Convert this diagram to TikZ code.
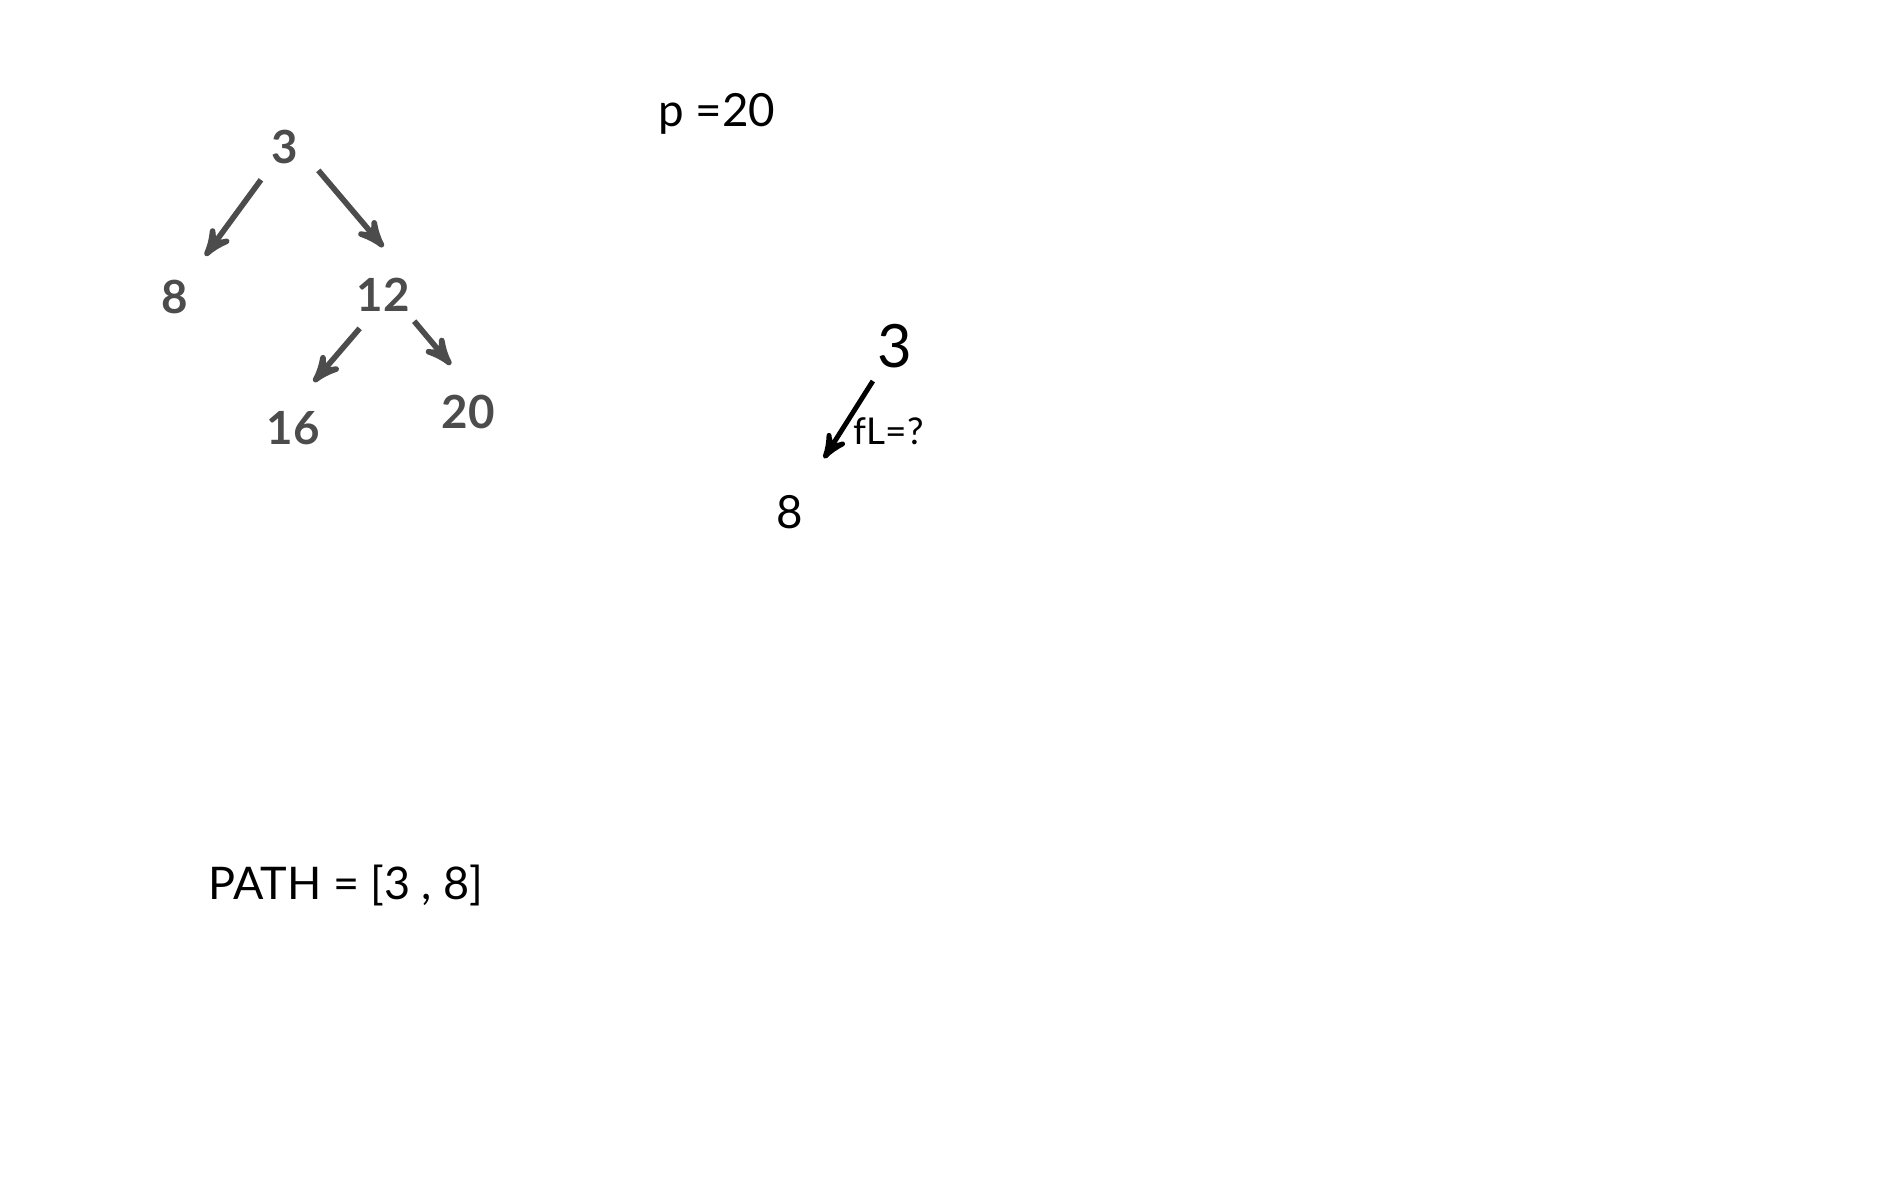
\documentclass[tikz,border=0pt]{standalone}
\usepackage{fontspec}
\setmainfont{Lato}
\usetikzlibrary{arrows}

\begin{document}
\begin{tikzpicture}[->,>=stealth',auto,
  tree node/.style={circle,minimum size=8mm,inner sep=0pt,text=black!70,font=\bfseries\fontsize{13}{13}\selectfont},
  hand node/.style={inner sep=1pt,font=\fontsize{13}{13}\selectfont}]
  \path[-,use as bounding box,fill=white] (0,0) rectangle (19,-12);
  % blurred tree on the left
  \node[tree node] (3) at (2.85,-1.47) {3};
  \node[tree node] (8) at (1.75,-2.97) {8};
  \node[tree node] (12) at (3.83,-2.95) {12};
  \node[tree node] (16) at (2.93,-4.28) {16};
  \node[tree node] (20) at (4.68,-4.12) {20};
  \path[black!70,line width=1.6pt,shorten >=3pt]
    (3) edge (8)
    (3.-35) edge (12.80)
    (12.-125) edge (16.70)
    (12.-40) edge (20.105);
  % target value
  \node[hand node] (p) at (7.17,-1.14) {p =20};
  % one step of the search
  \node[hand node,font=\fontsize{17}{17}\selectfont] (r3) at (8.95,-3.46) {3};
  \node[hand node] (r8) at (7.90,-5.12) {8};
  \path[line width=1.4pt,shorten <=3pt,shorten >=11pt]
    (r3) edge node[pos=0.5,right,inner sep=3pt,font=\fontsize{10.5}{10.5}\selectfont] {fL=?} (r8);
  % path so far
  \node[hand node,font=\fontsize{12.8}{12.8}\selectfont] (path) at (3.46,-8.85) {PATH = [3 , 8]};
\end{tikzpicture}
\end{document}
